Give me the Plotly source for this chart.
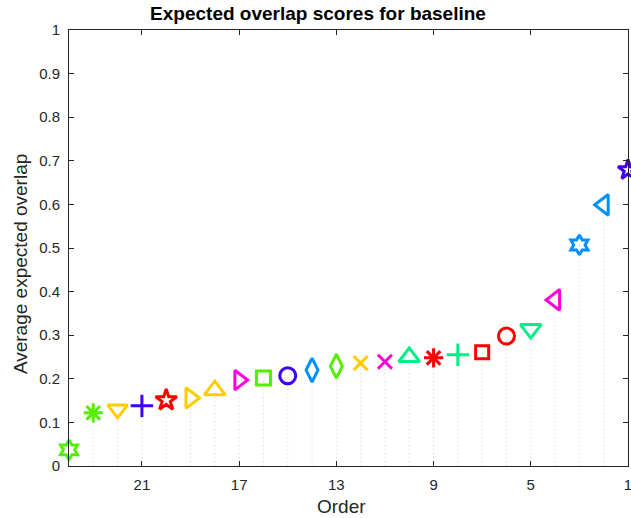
import plotly.graph_objects as go

orders = list(range(24, 0, -1))
scores = [0.037, 0.122, 0.130, 0.138, 0.151, 0.156, 0.174, 0.197, 0.202, 0.207,
          0.220, 0.229, 0.236, 0.239, 0.250, 0.248, 0.255, 0.261, 0.298, 0.314,
          0.381, 0.507, 0.599, 0.679]
symbols = ["hexagram-open", "asterisk-open", "triangle-down-open", "cross-thin-open",
           "star-open", "triangle-right-open", "triangle-up-open", "triangle-right-open",
           "square-open", "circle-open", "diamond-tall-open", "diamond-tall-open",
           "x-thin-open", "x-thin-open", "triangle-up-open", "asterisk-open",
           "cross-thin-open", "square-open", "circle-open", "triangle-down-open",
           "triangle-left-open", "hexagram-open", "triangle-left-open", "star-open"]
colors = ["#55ee00", "#55ee00", "#ffcc00", "#4000ff", "#ff0000", "#ffcc00", "#ffcc00",
          "#ff00dd", "#55ee00", "#4000ff", "#0090ff", "#55ee00", "#ffcc00", "#ff00dd",
          "#00ee88", "#ff0000", "#00ee88", "#ff0000", "#ff0000", "#00ee88", "#ff00dd",
          "#0090ff", "#0090ff", "#4000ff"]
sizes = [15, 16, 17, 16, 16, 18, 18, 17, 14, 16, 17, 17, 14, 14, 18, 16, 16, 13, 16, 18,
         18, 15, 18, 15]
xticks = [21, 17, 13, 9, 5, 1]
yticks = [0, 0.1, 0.2, 0.3, 0.4, 0.5, 0.6, 0.7, 0.8, 0.9, 1]
ytick_labels = ["0", "0.1", "0.2", "0.3", "0.4", "0.5", "0.6", "0.7", "0.8", "0.9", "1"]
title_text = "Expected overlap scores for baseline"
xlabel = "Order"
ylabel = "Average expected overlap"

stem_x, stem_y = [], []
for o, s in zip(orders, scores):
    stem_x += [o, o, None]
    stem_y += [0, s, None]

fig = go.Figure()
fig.add_trace(go.Scatter(x=stem_x, y=stem_y, mode="lines",
                         line=dict(color="#cfcfcf", width=1, dash="1px,3px"),
                         hoverinfo="skip", showlegend=False))
fig.add_trace(go.Scatter(x=orders, y=scores, mode="markers",
                         marker=dict(symbol=symbols, color=colors, size=sizes, opacity=1,
                                     line=dict(width=3, color=colors)),
                         cliponaxis=False, showlegend=False))

font = "Liberation Sans, Arial"
axis_common = dict(showline=True, linecolor="#262626", linewidth=1, mirror="ticks",
                   ticks="inside", ticklen=5, tickcolor="#262626", showgrid=False,
                   zeroline=False, automargin=False, ticklabeloverflow="allow",
                   tickfont=dict(family=font, size=15, color="#262626"))
fig.update_layout(
    width=631, height=518, autosize=False,
    margin=dict(l=69, r=3, t=30, b=52, autoexpand=False),
    paper_bgcolor="white", plot_bgcolor="white",
    title=dict(text="<b>" + title_text + "</b>", x=0.504, xanchor="center",
               y=0.975, yanchor="middle", automargin=False,
               font=dict(family=font, size=19, color="black")),
    xaxis=dict(range=[24, 1], tickvals=xticks, ticklabelstandoff=5, **axis_common),
    yaxis=dict(range=[0, 1], tickvals=yticks, ticktext=ytick_labels,
               ticklabelstandoff=5, **axis_common),
    annotations=[
        dict(text=xlabel, xref="paper", yref="paper", x=0.488, y=-0.094,
             xanchor="center", yanchor="middle", showarrow=False,
             font=dict(family=font, size=19, color="#262626")),
        dict(text=ylabel, xref="paper", yref="paper", x=-0.0877, y=0.463,
             xanchor="center", yanchor="middle", textangle=-90, showarrow=False,
             font=dict(family=font, size=19, color="#262626")),
    ],
)
fig.write_html("out.html", config={"displayModeBar": False},
               post_script="document.body.style.margin='0px';document.body.style.padding='0px';")
